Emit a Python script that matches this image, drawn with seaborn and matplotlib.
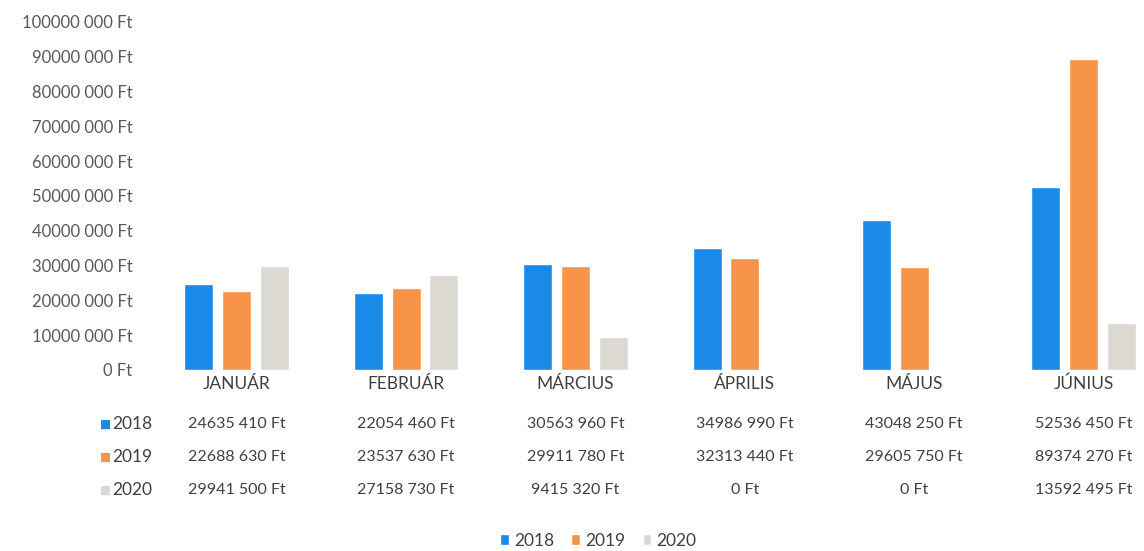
import pandas as pd
import matplotlib.pyplot as plt
import matplotlib.transforms as mtransforms
from matplotlib.patches import Patch
from matplotlib.ticker import FuncFormatter, MultipleLocator
import seaborn as sns

# adatok (Ft)
honapok = ["JANUÁR", "FEBRUÁR", "MÁRCIUS", "ÁPRILIS", "MÁJUS", "JÚNIUS"]
evek = ["2018", "2019", "2020"]
ertek_2018 = [24635410, 22054460, 30563960, 34986990, 43048250, 52536450]
ertek_2019 = [22688630, 23537630, 29911780, 32313440, 29605750, 89374270]
ertek_2020 = [29941500, 27158730, 9415320, 0, 0, 13592495]
szinek = ["#1a8ae8", "#f8944a", "#dcd9d2"]


def ft(v, pos=None):
    v = int(round(v))
    if v < 1000:
        return f"{v} Ft"
    return f"{v // 1000} {v % 1000:03d} Ft"


sorok = {"2018": ertek_2018, "2019": ertek_2019, "2020": ertek_2020}
df = pd.DataFrame([
    {"Hónap": h, "Év": ev, "Összeg": sorok[ev][i]}
    for ev in evek for i, h in enumerate(honapok)
])

sns.set_style("white")
plt.rcParams["font.family"] = ["Lato", "DejaVu Sans"]

fig = plt.figure(figsize=(11.44, 5.51), dpi=100)
ax = fig.add_axes([152 / 1144, 1 - 370 / 551, 1 - 152 / 1144, (370 - 22) / 551])

sns.barplot(data=df, x="Hónap", y="Összeg", hue="Év", order=honapok,
            hue_order=evek, palette=szinek, saturation=1, width=0.67, gap=0.23,
            legend=False, ax=ax)

ax.set_ylim(0, 100000000)
ax.set_xlim(-0.5, -0.5 + 992 / 169.4)
ax.yaxis.set_major_locator(MultipleLocator(10000000))
ax.yaxis.set_major_formatter(FuncFormatter(ft))
ax.set_xlabel("")
ax.set_ylabel("")
sns.despine(ax=ax, left=True, bottom=True)
ax.tick_params(axis="y", length=0, pad=14, labelsize=12, labelcolor="#595959")
ax.tick_params(axis="x", length=0, pad=4, labelsize=12.5, labelcolor="#404040")

# adattábla a diagram alatt
trans = mtransforms.blended_transform_factory(ax.transData, fig.transFigure)
sor_y = [1 - 424 / 551, 1 - 457 / 551, 1 - 490 / 551]
for ev, y, szin in zip(evek, sor_y, szinek):
    fig.text(100 / 1144, y, "■", color=szin, fontsize=8.5, va="center",
             family=["DejaVu Sans"])
    fig.text(112 / 1144, y, ev, color="#404040", fontsize=12.5, va="center")
    for i, v in enumerate(sorok[ev]):
        ax.text(i, y, ft(v), transform=trans, ha="center", va="center",
                fontsize=11.5, color="#404040")

handles = [Patch(facecolor=c, label=ev) for ev, c in zip(evek, szinek)]
fig.legend(handles=handles, loc="center", bbox_to_anchor=(0.523, 1 - 541 / 551),
           ncol=3, frameon=False, fontsize=12.5, handlelength=0.5,
           handleheight=0.6, handletextpad=0.3, columnspacing=1.0,
           labelcolor="#404040")

fig.savefig("out.png", dpi=100)
